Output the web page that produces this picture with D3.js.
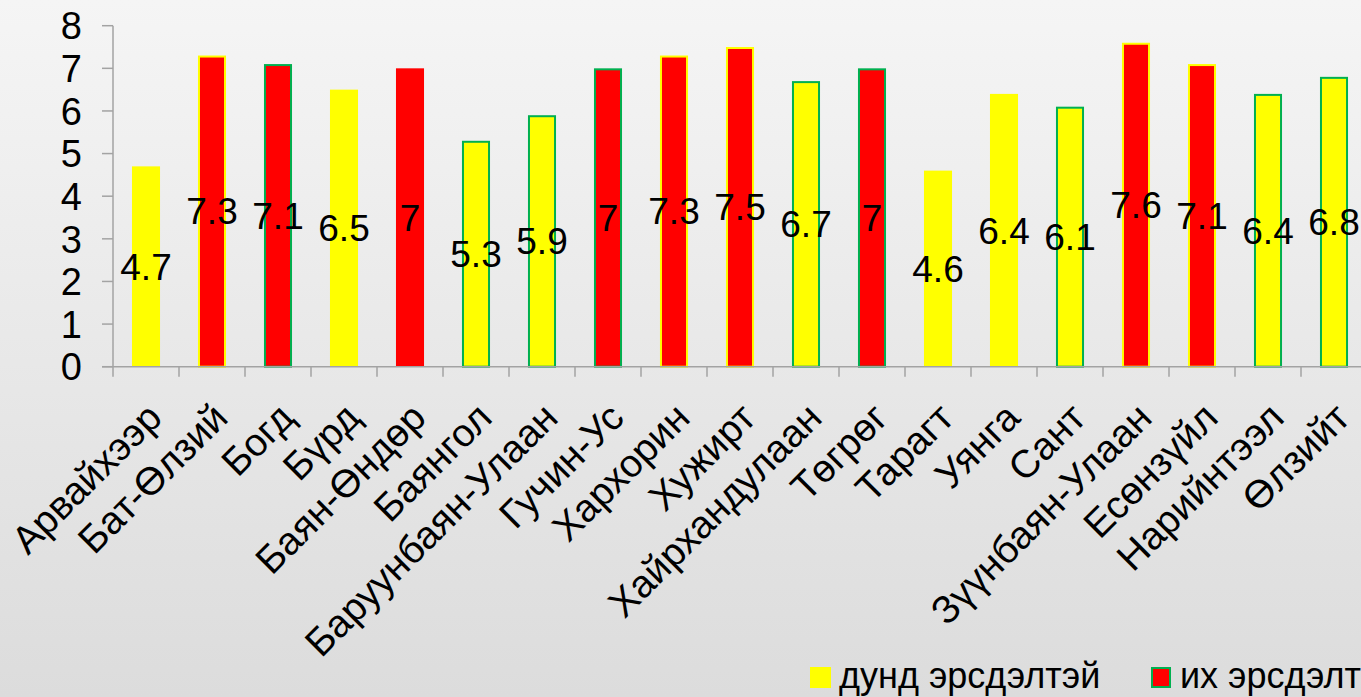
<!DOCTYPE html>
<html>
<head>
<meta charset="utf-8">
<script src="https://cdn.jsdelivr.net/npm/d3@7"></script>
<style>
  html, body { margin: 0; padding: 0; overflow: hidden; }
  svg { display: block; font-family: "Liberation Sans", Arial, sans-serif; }
</style>
</head>
<body>
<svg id="chart" width="1361" height="697"></svg>
<script>
// soums and their scores
const categories = ["Арвайхээр", "Бат-Өлзий", "Богд", "Бүрд", "Баян-Өндөр", "Баянгол",
  "Баруунбаян-Улаан", "Гучин-Ус", "Хархорин", "Хужирт", "Хайрхандулаан", "Төгрөг",
  "Тарагт", "Уянга", "Сант", "Зүүнбаян-Улаан", "Есөнзүйл", "Нарийнтээл", "Өлзийт"];
const values = [4.7, 7.3, 7.1, 6.5, 7, 5.3, 5.9, 7, 7.3, 7.5, 6.7, 7, 4.6, 6.4, 6.1, 7.6, 7.1, 6.4, 6.8];
// risk level of each soum (bar fill)
const riskLevel = ["mid", "high", "high", "mid", "high", "mid", "mid", "high", "high", "high",
  "mid", "high", "mid", "mid", "mid", "high", "high", "mid", "mid"];
// outline group of each bar
const outlineGroup = ["none", "y", "g", "none", "none", "g", "g", "g", "y", "y",
  "g", "g", "none", "none", "g", "y", "y", "g", "g"];
const yTicks = [0, 1, 2, 3, 4, 5, 6, 7, 8];
const legendKeys = ["mid", "high"];
const legendLabels = ["дунд эрсдэлтэй", "их эрсдэлтэй"];

const W = 1361, H = 697;
const svg = d3.select("#chart");

// background gradient
const defs = svg.append("defs");
const grad = defs.append("linearGradient").attr("id", "bg")
  .attr("x1", 0).attr("y1", 0).attr("x2", 0).attr("y2", 1);
grad.append("stop").attr("offset", "0%").attr("stop-color", "#f5f5f5");
grad.append("stop").attr("offset", "100%").attr("stop-color", "#dcdcdc");
svg.append("rect").attr("width", W).attr("height", H).attr("fill", "url(#bg)");

const x = d3.scaleBand()
  .domain(categories)
  .range([113, 1367])
  .paddingInner(0.575)
  .paddingOuter(0.2875);

const y = d3.scaleLinear().domain([0, 8]).range([366.7, 25.7]);

const fill = d3.scaleOrdinal().domain(["mid", "high"]).range(["#ffff00", "#ff0000"]);
const edge = d3.scaleOrdinal().domain(["none", "y", "g"]).range([null, "#ffff00", "#00b050"]);

const data = categories.map((c, i) => ({
  name: c, value: values[i], risk: riskLevel[i], outline: outlineGroup[i]
}));

const axisColor = "#a3a3a3";

// y axis
const yAxis = svg.append("g");
yAxis.append("line")
  .attr("x1", 113).attr("x2", 113)
  .attr("y1", y(8)).attr("y2", y(0))
  .attr("stroke", axisColor).attr("stroke-width", 1.5);
yAxis.selectAll(".ytick")
  .data(yTicks)
  .enter()
  .append("line")
  .attr("x1", 102).attr("x2", 113)
  .attr("y1", d => y(d)).attr("y2", d => y(d))
  .attr("stroke", axisColor).attr("stroke-width", 1.5);
yAxis.selectAll(".ylab")
  .data(yTicks)
  .enter()
  .append("text")
  .attr("x", 82)
  .attr("y", d => y(d))
  .attr("dy", "0.36em")
  .attr("text-anchor", "end")
  .attr("fill", "#000")
  .style("font-size", "38px")
  .text(d => d);

// bars
const bw = x.bandwidth();
svg.selectAll(".bar")
  .data(data)
  .enter()
  .append("rect")
  .attr("class", "bar")
  .attr("x", d => d.outline === "none" ? x(d.name) : x(d.name) + 1)
  .attr("width", d => d.outline === "none" ? bw : bw - 2)
  .attr("y", d => d.outline === "none" ? y(d.value) : y(d.value) + 1)
  .attr("height", d => d.outline === "none" ? y(0) - y(d.value) : y(0) - y(d.value) - 1)
  .attr("fill", d => fill(d.risk))
  .attr("stroke", d => edge(d.outline))
  .attr("stroke-width", 2);

// x axis
const xAxis = svg.append("g");
xAxis.append("line")
  .attr("x1", 102).attr("x2", 1367)
  .attr("y1", y(0)).attr("y2", y(0))
  .attr("stroke", axisColor).attr("stroke-width", 1.5);
const edges = categories.map(c => x(c) - x.step() * x.paddingOuter());
xAxis.selectAll(".xtick")
  .data(edges)
  .enter()
  .append("line")
  .attr("x1", d => d).attr("x2", d => d)
  .attr("y1", y(0)).attr("y2", y(0) + 10)
  .attr("stroke", axisColor).attr("stroke-width", 1.5);
xAxis.selectAll(".xlab")
  .data(categories)
  .enter()
  .append("text")
  .attr("transform", d => `translate(${x(d) + bw / 2 + 18},420) rotate(-45)`)
  .attr("text-anchor", "end")
  .attr("fill", "#000")
  .style("font-size", "39px")
  .text(d => d);

// data labels in the middle of the bar
svg.selectAll(".dlab")
  .data(data)
  .enter()
  .append("text")
  .attr("x", d => x(d.name) + bw / 2)
  .attr("y", d => (y(d.value) + y(0)) / 2)
  .attr("dy", "0.36em")
  .attr("text-anchor", "middle")
  .attr("fill", "#000")
  .style("font-size", "37px")
  .text(d => d.value);

// legend
const legendX = [810, 1151];
const leg = svg.selectAll(".leg")
  .data(legendKeys)
  .enter()
  .append("g")
  .attr("transform", (d, i) => `translate(${legendX[i]},667)`);
leg.append("rect")
  .attr("x", (d, i) => i ? 1 : 0).attr("y", (d, i) => i ? 1 : 0)
  .attr("width", (d, i) => i ? 18 : 21).attr("height", (d, i) => i ? 19 : 21)
  .attr("fill", d => fill(d))
  .attr("stroke", (d, i) => i ? "#00b050" : null)
  .attr("stroke-width", 2);
leg.append("text")
  .attr("x", 29).attr("y", 21)
  .attr("fill", "#000")
  .style("font-size", "36px")
  .text((d, i) => legendLabels[i]);
</script>
</body>
</html>
